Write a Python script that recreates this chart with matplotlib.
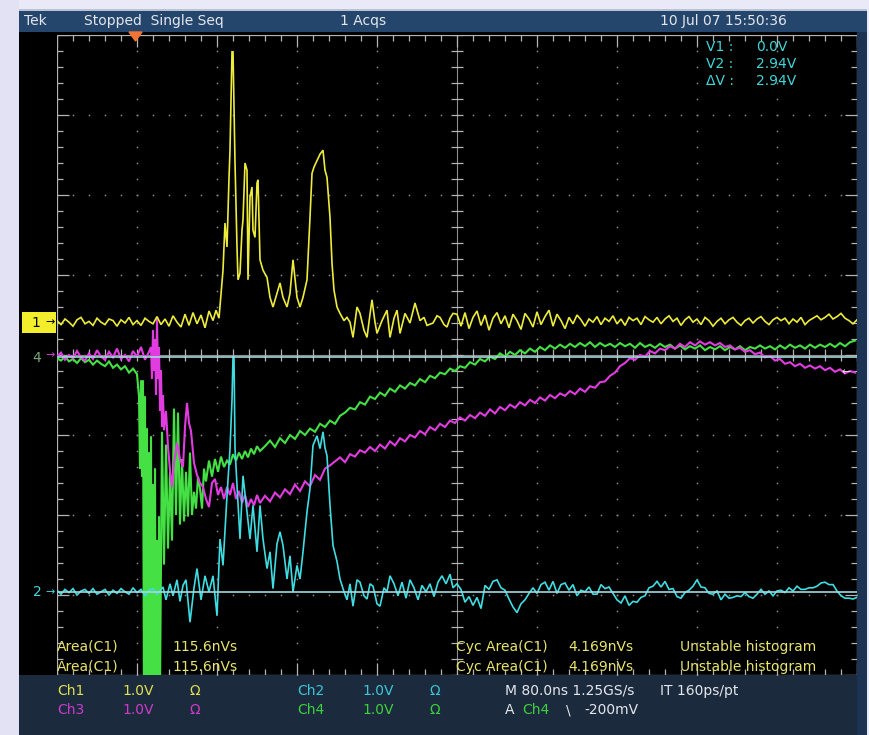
"""Scope capture: four channels, single-sequence acquisition, 80 ns/div."""

import numpy as np
import matplotlib

matplotlib.use("Agg")
import matplotlib.pyplot as plt
from matplotlib.collections import LineCollection
from matplotlib.patches import Rectangle, Polygon

W, H = 869, 735

# time base (ns), trigger at t = 0
T_LEFT, T_RIGHT = -78, 722
NS_PER_DIV = 80
V_PER_DIV = 1.0

# channel ground levels in divisions from screen centre
CH1_POS = 0.41
CH2_POS = -2.96
CH3_POS = 0.0
CH4_POS = -0.02

# cursor readout (Ch2)
CURSOR_V1 = 0.0
CURSOR_V2 = 2.94

# ---- Ch1 (yellow) ------------------------------------------------------
CH1_PRE_T0, CH1_PRE_DT = -78, 4
CH1_PRE = [0.02, -0.03, 0.04, 0.0, -0.05, 0.03, 0.06, -0.02, 0.01, -0.04,
           0.05, 0.0, -0.03, 0.04, 0.02, -0.05, 0.03, -0.01, 0.06, -0.03,
           0.02, -0.04, 0.05, 0.01, -0.02, 0.07, -0.03, 0.04, -0.05, 0.08,
           0.0, -0.06, 0.1, -0.04, 0.12, -0.02, 0.09, -0.07, 0.14, 0.02]
CH1_PULSE = [(81, 0.15), (84, 0.05), (86, 0.35), (88, 0.65), (90, 1.24),
             (92, 0.94), (94, 1.8), (95, 2.15), (97, 3.38), (98, 3.38),
             (100, 2.0), (102, 0.94), (103, 0.53), (105, 0.61), (107, 1.15),
             (108, 1.28), (110, 1.99), (112, 1.9), (113, 0.53), (115, 1.56),
             (117, 1.69), (118, 1.15), (120, 1.06), (122, 1.74), (123, 1.78),
             (125, 0.78), (128, 0.65), (132, 0.56), (135, 0.31), (138, 0.19),
             (142, 0.36), (145, 0.49), (148, 0.31), (152, 0.19), (155, 0.36),
             (158, 0.78), (162, 0.31), (165, 0.19), (168, 0.31), (172, 0.53),
             (175, 1.31), (177, 1.86), (179, 1.94), (182, 2.02), (185, 2.1),
             (188, 2.15), (190, 1.9), (192, 1.81), (195, 1.31), (197, 0.74),
             (199, 0.4), (202, 0.19), (205, 0.11), (209, 0.02), (212, 0.06),
             (215, 0.0), (218, -0.19), (222, 0.19), (225, 0.11), (229, -0.1),
             (232, -0.19), (235, 0.1), (237, 0.28), (240, 0.0), (242, -0.14),
             (247, 0.02), (252, 0.15), (255, -0.19), (259, 0.05), (262, 0.15),
             (265, -0.14), (270, 0.11), (275, -0.01), (280, 0.24), (285, 0.02),
             (289, 0.06), (292, -0.04), (298, -0.01), (302, 0.08), (305, 0.06),
             (309, -0.03), (312, -0.06), (315, 0.05), (318, 0.11)]
CH1_POST_T0, CH1_POST_DT = 322, 4
CH1_POST = [0.1, -0.05, 0.12, -0.08, 0.06, 0.14, -0.04, 0.09, -0.1, 0.05,
            0.12, -0.02, 0.08, -0.07, 0.1, 0.02, -0.09, 0.11, 0.04, -0.06,
            0.13, -0.03, 0.07, 0.15, -0.05, 0.1, 0.02, -0.08, 0.06, -0.02,
            0.09, 0.03, -0.05, 0.04, 0.0, 0.07, -0.03, 0.05, 0.01, 0.08,
            -0.02, 0.04, -0.04, 0.06, 0.02, 0.05, -0.03, 0.07, 0.03, 0.0,
            0.06, -0.02, 0.04, 0.08, 0.01, 0.05, -0.04, 0.03, 0.07, 0.0,
            0.04, -0.03, 0.06, 0.02, -0.05, 0.01, 0.05, -0.02, 0.03, 0.06,
            0.0, -0.04, 0.02, 0.05, -0.01, 0.04, 0.07, 0.01, -0.03, 0.03,
            0.06, 0.02, 0.05, -0.02, 0.04, 0.0, 0.06, -0.03, 0.02, 0.05,
            0.08, 0.03, 0.06, 0.1, 0.04, 0.07, 0.11, 0.05, 0.02, -0.02, 0.03]

# ---- Ch2 (cyan) --------------------------------------------------------
CH2_PRE_T0, CH2_PRE_DT = -78, 4
CH2_PRE = [0.02, -0.03, 0.03, -0.01, 0.04, -0.04, 0.01, 0.03, -0.02, 0.04,
           -0.03, 0.0, 0.03, -0.04, 0.02, -0.02, 0.04, 0.0, -0.03, 0.05,
           -0.01, 0.03, -0.05, 0.02, 0.04, -0.03]
CH2_PULSE = [(28, 0.06), (31, -0.1), (35, 0.1), (38, -0.05), (42, 0.15),
             (45, -0.12), (48, 0.08), (51, 0.15), (55, -0.38), (59, 0.05),
             (62, 0.29), (66, -0.1), (70, 0.2), (74, 0.0), (78, 0.2),
             (82, -0.3), (85, 0.66), (88, 0.33), (92, 1.2), (95, 1.79),
             (97, 2.4), (98, 2.94), (99, 2.94), (100, 1.8), (102, 1.33),
             (105, 0.66), (108, 1.45), (112, 1.0), (115, 0.66), (118, 1.08),
             (122, 0.5), (125, 1.08), (128, 0.66), (132, 0.29), (135, 0.5),
             (138, 0.04), (142, 0.6), (145, 0.75), (148, 0.58), (152, 0.16),
             (155, 0.45), (158, 0.0), (162, 0.33), (165, 0.16), (168, 0.5),
             (172, 1.0), (175, 1.29), (178, 1.83), (182, 1.95), (185, 1.79),
             (188, 2.0), (190, 1.8), (192, 1.7), (195, 1.08), (198, 0.58),
             (202, 0.38), (205, 0.16), (209, 0.0), (212, -0.1), (215, 0.1),
             (218, -0.18), (222, 0.15), (225, 0.12), (229, -0.05), (232, -0.09),
             (235, 0.1), (238, 0.07), (242, -0.15), (245, -0.18), (249, 0.05),
             (252, 0.0), (255, 0.2), (259, 0.1), (263, -0.05), (267, 0.12),
             (271, -0.08), (275, 0.15), (279, 0.05), (283, -0.1), (287, 0.08),
             (291, 0.0), (295, 0.1), (299, -0.06), (303, 0.12), (307, 0.2),
             (311, 0.1), (315, 0.22), (318, 0.05)]
CH2_POST_T0, CH2_POST_DT = 322, 4
CH2_POST = [0.1, 0.03, -0.13, -0.06, -0.17, -0.07, -0.21, 0.08, 0.03, 0.13,
            0.15, 0.05, 0.02, -0.09, -0.19, -0.26, -0.15, -0.1, -0.02, 0.05,
            -0.02, 0.09, 0.12, 0.02, 0.13, -0.02, 0.09, 0.11, 0.02, 0.09,
            -0.05, 0.02, 0.0, 0.06, -0.03, -0.03, 0.09, 0.04, 0.06, -0.02,
            -0.1, -0.14, -0.05, -0.17, -0.12, -0.13, -0.07, -0.05, 0.05, 0.07,
            0.13, 0.06, 0.13, 0.03, 0.04, -0.06, -0.08, -0.01, 0.02, 0.07,
            0.15, 0.06, 0.05, -0.02, -0.03, 0.01, -0.1, -0.03, -0.08, -0.07,
            -0.05, -0.06, -0.01, -0.06, -0.08, -0.03, 0.03, -0.03, 0.01, -0.05,
            0.01, 0.02, -0.01, 0.05, 0.01, 0.07, 0.03, 0.03, 0.05, 0.05,
            0.07, 0.11, 0.12, 0.09, 0.09, 0.01, -0.05, -0.08, -0.08, -0.09,
            -0.07]

# ---- Ch3 (magenta) -----------------------------------------------------
CH3_PRE_T0, CH3_PRE_DT = -78, 4
CH3_PRE = [-0.02, 0.03, -0.06, 0.0, -0.04, 0.05, -0.03, -0.07, 0.02, -0.05,
           0.06, -0.02, -0.06, 0.04, -0.03, 0.08, -0.05, 0.0, -0.08, 0.05,
           -0.02, 0.1, -0.06, 0.04]
CH3_PULSE = [(16, 0.1), (17, -0.3), (18, 0.31), (19, -0.2), (20, 0.2),
             (21, -0.5), (22, 0.45), (23, -0.3), (24, 0.1), (25, -0.7),
             (26, -0.19), (27, -0.9), (28, -0.5), (29, -0.94), (31, -0.7),
             (33, -1.15), (35, -1.44), (37, -1.65), (39, -1.35), (42, -1.1),
             (45, -1.3), (48, -1.4), (50, -0.9), (52, -0.6), (54, -0.85),
             (56, -0.95), (59, -1.35), (62, -1.5), (65, -1.6), (68, -1.65),
             (71, -1.8), (74, -1.9), (77, -1.6), (80, -1.55), (83, -1.75),
             (86, -1.65), (89, -1.8), (92, -1.65), (95, -1.75), (98, -1.6),
             (101, -1.8), (104, -1.7), (107, -1.85), (110, -1.75), (113, -1.9),
             (116, -1.8), (119, -1.88), (122, -1.75), (125, -1.85)]
CH3_POST_T0, CH3_POST_DT = 130, 5
CH3_POST = [-1.76, -1.83, -1.72, -1.78, -1.68, -1.74, -1.62, -1.7, -1.58, -1.64,
            -1.5, -1.56, -1.42, -1.38, -1.33, -1.28, -1.34, -1.24, -1.27, -1.19,
            -1.22, -1.15, -1.2, -1.12, -1.17, -1.08, -1.13, -1.04, -1.08, -1.0,
            -1.03, -0.95, -0.99, -0.9, -0.94, -0.86, -0.9, -0.82, -0.85, -0.78,
            -0.82, -0.75, -0.79, -0.72, -0.76, -0.68, -0.73, -0.65, -0.69, -0.62,
            -0.66, -0.59, -0.63, -0.56, -0.6, -0.53, -0.57, -0.5, -0.54, -0.48,
            -0.51, -0.45, -0.49, -0.42, -0.46, -0.39, -0.41, -0.34, -0.33, -0.26,
            -0.22, -0.14, -0.1, -0.04, -0.06, 0.0, -0.02, 0.05, 0.02, 0.08,
            0.06, 0.11, 0.08, 0.14, 0.1, 0.16, 0.12, 0.17, 0.13, 0.16,
            0.12, 0.15, 0.1, 0.12, 0.07, 0.09, 0.04, 0.06, 0.01, 0.03,
            -0.03, -0.01, -0.07, -0.05, -0.11, -0.09, -0.14, -0.11, -0.16, -0.13,
            -0.17, -0.14, -0.19, -0.16, -0.21, -0.18, -0.23, -0.2, -0.22]

# ---- Ch4 (green) -------------------------------------------------------
CH4_PRE_T0, CH4_PRE_DT = -78, 4
CH4_PRE = [-0.02, -0.05, 0.0, -0.06, -0.03, -0.08, -0.02, -0.07, -0.04, -0.1,
           -0.05, -0.09, -0.12, -0.06, -0.14, -0.1, -0.16, -0.12, -0.2, -0.15,
           -0.22]
CH4_PULSE = [(4, -0.5), (5, -1.4), (6, -0.3), (7, -1.5), (8, -0.3),
             (9, -4.5), (10, -0.5), (11, -4.5), (12, -0.9), (13, -4.5),
             (14, -1.2), (15, -4.5), (16, -1.0), (17, -4.5), (18, -1.6),
             (19, -4.5), (20, -1.4), (21, -4.5), (22, -2.3), (23, -4.5),
             (24, -2.0), (25, -4.2), (27, -0.94), (29, -2.6), (31, -1.1),
             (33, -2.4), (35, -1.44), (37, -2.3), (39, -0.65), (41, -1.98),
             (43, -0.7), (45, -2.1), (47, -1.28), (49, -2.06), (51, -1.44),
             (53, -2.0), (55, -1.2), (57, -1.98), (59, -1.69), (61, -1.9),
             (63, -1.5), (65, -1.65), (67, -1.9), (69, -1.4), (71, -1.56),
             (74, -1.3), (77, -1.5), (80, -1.28), (83, -1.44), (86, -1.25),
             (89, -1.38), (92, -1.3), (95, -1.35), (98, -1.22), (101, -1.3),
             (104, -1.2), (107, -1.28), (110, -1.18), (113, -1.26), (116, -1.15),
             (119, -1.22), (122, -1.12), (125, -1.18)]
CH4_POST_T0, CH4_POST_DT = 130, 5
CH4_POST = [-1.12, -1.05, -1.13, -1.02, -1.08, -0.98, -1.03, -0.93, -0.98, -0.9,
            -0.94, -0.84, -0.88, -0.8, -0.84, -0.74, -0.7, -0.64, -0.66, -0.57,
            -0.6, -0.5, -0.53, -0.45, -0.49, -0.4, -0.44, -0.36, -0.4, -0.33,
            -0.36, -0.28, -0.32, -0.24, -0.27, -0.2, -0.22, -0.15, -0.18, -0.12,
            -0.14, -0.07, -0.1, -0.03, -0.06, 0.0, -0.03, 0.04, 0.0, 0.06,
            0.02, 0.08, 0.04, 0.1, 0.06, 0.12, 0.08, 0.14, 0.1, 0.15,
            0.11, 0.16, 0.12, 0.17, 0.13, 0.18, 0.12, 0.17, 0.13, 0.16,
            0.12, 0.17, 0.13, 0.16, 0.11, 0.17, 0.12, 0.15, 0.11, 0.16,
            0.12, 0.15, 0.1, 0.14, 0.09, 0.13, 0.1, 0.14, 0.08, 0.12,
            0.09, 0.13, 0.08, 0.12, 0.09, 0.13, 0.08, 0.12, 0.1, 0.14,
            0.1, 0.13, 0.09, 0.14, 0.1, 0.15, 0.11, 0.14, 0.1, 0.15,
            0.11, 0.15, 0.12, 0.16, 0.12, 0.17, 0.13, 0.18, 0.2]

CH_COLORS = {"ch1": "#eeec3a", "ch2": "#3fdde2", "ch3": "#e03ce0", "ch4": "#44e044"}
CH_WIDTHS = {"ch1": 1.2, "ch2": 1.2, "ch3": 1.5, "ch4": 1.5}


def build_trace(t0, dt, pre, pulse, post_t0, post_dt, post):
    t = np.concatenate([
        t0 + dt * np.arange(len(pre)),
        [p[0] for p in pulse],
        post_t0 + post_dt * np.arange(len(post)),
    ])
    v = np.concatenate([pre, [p[1] for p in pulse], post])
    return t, v


plt.rcParams["font.family"] = ["DejaVu Sans"]
fig = plt.figure(figsize=(W / 100, H / 100), dpi=100, facecolor="#e9e9f7")

bg = fig.add_axes([0, 0, 1, 1], zorder=-1)
bg.set_xlim(0, W)
bg.set_ylim(H, 0)
bg.axis("off")

# instrument frame
bg.add_patch(Rectangle((0, 0), 19, H, color="#e2e2f4", lw=0))
bg.add_patch(Rectangle((19, 9), 848, 2, color="#b9c3d3", lw=0))
bg.add_patch(Rectangle((19, 11), 848, 21, color="#24466c", lw=0))
bg.add_patch(Rectangle((19, 32), 838, 643, color="black", lw=0))
bg.add_patch(Rectangle((857, 32), 10, 703, color="#1c3354", lw=0))
bg.add_patch(Rectangle((19, 675), 838, 60, color="#1b2a3d", lw=0))

# ground markers
bg.add_patch(Rectangle((22, 312), 34, 21, color="#f2ee2c", lw=0))
bg.text(36, 323, "1", color="black", fontsize=10, ha="center", va="center")
bg.text(50, 322, "\u2192", color="black", fontsize=8, ha="center", va="center")
bg.text(37, 358, "4", color="#77a67a", fontsize=10, ha="center", va="center")
bg.text(50, 355, "\u2192", color="#d83cd8", fontsize=8, ha="center", va="center")
bg.text(37, 592, "2", color="#3fd6dc", fontsize=10, ha="center", va="center")
bg.text(50, 592, "\u2192", color="#3fd6dc", fontsize=8, ha="center", va="center")

# screen
ax = fig.add_axes([57 / W, 1 - 675 / H, 800 / W, 640 / H], zorder=0)
ax.set_facecolor("black")
ax.set_xlim(T_LEFT, T_RIGHT)
ax.set_ylim(-4, 4)
ax.axis("off")

GRAT = "#b4b4b4"
CENTRE = "#8e8e8e"
DOT = "#8c8c8c"
minor_t = T_LEFT + 16 * np.arange(51)
minor_v = -4 + 0.2 * np.arange(41)
major_t = T_LEFT + NS_PER_DIV * np.arange(11)
t_mid = T_LEFT + 5 * NS_PER_DIV

# dotted division lines
for k in range(1, 10):
    if k == 5:
        continue
    ax.plot(np.full(41, major_t[k]), minor_v, ls="none", marker="s", ms=1.1,
            color=DOT, mew=0)
for y in range(-3, 4):
    if y == 0:
        continue
    ax.plot(minor_t, np.full(51, y), ls="none", marker="s", ms=1.1,
            color=DOT, mew=0)

# centre cross, dimmer than the frame
ax.add_collection(LineCollection(
    [[(t_mid, -4), (t_mid, 4)], [(T_LEFT, 0), (T_RIGHT, 0)]],
    colors=CENTRE, linewidths=0.8))

segs = [[(T_LEFT, 4), (T_RIGHT, 4)], [(T_LEFT, -4), (T_RIGHT, -4)],
        [(T_LEFT, -4), (T_LEFT, 4)], [(T_RIGHT, -4), (T_RIGHT, 4)]]
for i, t in enumerate(minor_t):
    lv = 0.15 if i % 5 == 0 else 0.075
    segs.append([(t, 4), (t, 4 - lv)])
    segs.append([(t, -4), (t, -4 + lv)])
    segs.append([(t, -0.075), (t, 0.075)])
for j, v in enumerate(minor_v):
    lt = 12 if j % 5 == 0 else 6
    segs.append([(T_LEFT, v), (T_LEFT + lt, v)])
    segs.append([(T_RIGHT, v), (T_RIGHT - lt, v)])
    segs.append([(t_mid - 6, v), (t_mid + 6, v)])
ax.add_collection(LineCollection(segs, colors=GRAT, linewidths=0.9))

# waveforms, Ch4 at the back
traces = [
    ("ch4", CH4_POS, build_trace(CH4_PRE_T0, CH4_PRE_DT, CH4_PRE, CH4_PULSE,
                                 CH4_POST_T0, CH4_POST_DT, CH4_POST)),
    ("ch3", CH3_POS, build_trace(CH3_PRE_T0, CH3_PRE_DT, CH3_PRE, CH3_PULSE,
                                 CH3_POST_T0, CH3_POST_DT, CH3_POST)),
    ("ch2", CH2_POS, build_trace(CH2_PRE_T0, CH2_PRE_DT, CH2_PRE, CH2_PULSE,
                                 CH2_POST_T0, CH2_POST_DT, CH2_POST)),
    ("ch1", CH1_POS, build_trace(CH1_PRE_T0, CH1_PRE_DT, CH1_PRE, CH1_PULSE,
                                 CH1_POST_T0, CH1_POST_DT, CH1_POST)),
]
for name, pos, (t, v) in traces:
    ax.plot(t, v / V_PER_DIV + pos, color=CH_COLORS[name], lw=CH_WIDTHS[name],
            solid_joinstyle="miter")

# voltage cursors on Ch2
for cv in (CURSOR_V1, CURSOR_V2):
    ax.axhline(CH2_POS + cv / V_PER_DIV, color="#a4d8de", lw=1.2, zorder=5)

# trigger position marker
fig.add_artist(Polygon([(129 / W, 1 - 32 / H), (142 / W, 1 - 32 / H),
                        (135.5 / W, 1 - 41 / H)], closed=True,
                       color="#f07434", transform=fig.transFigure))


def label(x, y, s, color, size=10, **kw):
    fig.text(x / W, 1 - y / H, s, color=color, fontsize=size, va="center",
             ha=kw.pop("ha", "left"), **kw)


WHITE = "#e4e6ec"
YEL = "#e8e46c"
CYAN = "#3ed6d8"

# status bar
label(24, 21, "Tek", WHITE)
label(84, 21, "Stopped  Single Seq", WHITE)
label(340, 21, "1 Acqs", WHITE)
label(660, 21, "10 Jul 07 15:50:36", WHITE)

# cursor readout
label(706, 47, "V1 :", CYAN)
label(756, 47, "%.1fV" % CURSOR_V1, CYAN)
label(706, 64, "V2 :", CYAN)
label(756, 64, "%.2fV" % CURSOR_V2, CYAN)
label(706, 81, "\u0394V :", CYAN)
label(756, 81, "%.2fV" % (CURSOR_V2 - CURSOR_V1), CYAN)

# Ch3 reference arrow at the right edge
label(846, 372, "\u2190", "#e6e6e6", size=8, ha="center")

# measurements
for y in (647, 667):
    label(57, y, "Area(C1)", YEL)
    label(172, y, "115.6nVs", YEL)
    label(456, y, "Cyc Area(C1)", YEL)
    label(568, y, "4.169nVs", YEL)
    label(680, y, "Unstable histogram", YEL)

# channel settings
label(57, 691, "Ch1", "#e2e050")
label(122, 691, "1.0V", "#e2e050")
label(190, 691, "\u03a9", "#e2e050")
label(57, 710, "Ch3", "#cc3ccc")
label(122, 710, "1.0V", "#cc3ccc")
label(190, 710, "\u03a9", "#cc3ccc")
label(297, 691, "Ch2", "#3ec6d6")
label(362, 691, "1.0V", "#3ec6d6")
label(430, 691, "\u03a9", "#3ec6d6")
label(297, 710, "Ch4", "#3ed03e")
label(362, 710, "1.0V", "#3ed03e")
label(430, 710, "\u03a9", "#3ed03e")
label(505, 691, "M 80.0ns 1.25GS/s", WHITE)
label(660, 691, "IT 160ps/pt", WHITE)
label(505, 710, "A", WHITE)
label(522, 710, "Ch4", "#3ed03e")
label(566, 710, "\\", WHITE)
label(584, 710, "-200mV", WHITE)

fig.savefig("out.png", dpi=100, facecolor=fig.get_facecolor())
